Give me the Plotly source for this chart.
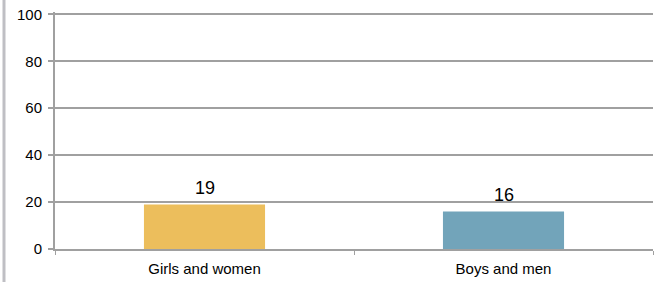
import plotly.graph_objects as go

categories = ["Girls and women", "Boys and men"]
values = [19, 16]
bar_colors = ["#ECBE5C", "#72A4BA"]
y_ticks = [0, 20, 40, 60, 80, 100]

FONT = "Liberation Sans, Arial, sans-serif"

fig = go.Figure()
fig.add_trace(go.Bar(
    x=categories, y=values, marker=dict(color=bar_colors, line=dict(width=0)),
    width=0.405, showlegend=False, hoverinfo="skip",
))
for c, v in zip(categories, values):
    fig.add_annotation(x=c, y=v, text=str(v), showarrow=False, yanchor="bottom",
                       yshift=4, font=dict(size=18, color="#000000", family=FONT))

fig.add_shape(type="line", xref="paper", yref="paper", x0=-51/598, x1=-51/598,
              y0=-40/237, y1=1 + 20/237, line=dict(color="#BFBFC4", width=3), layer="above")

fig.update_layout(
    width=665, height=282,
    margin=dict(l=55, r=12, t=12, b=33, autoexpand=False),
    paper_bgcolor="white", plot_bgcolor="white",
    font=dict(family=FONT, color="#000000", size=14),
    xaxis=dict(showgrid=False, showline=True, linecolor="#A0A0A0", linewidth=2,
               ticks="outside", tickson="boundaries", ticklen=4, tickcolor="#A0A0A0",
               tickwidth=1, tickfont=dict(size=15), ticklabelstandoff=5,
               zeroline=False, automargin=False),
    yaxis=dict(range=[0, 101], tickvals=y_ticks, showgrid=True, gridcolor="#A0A0A0",
               gridwidth=2, showline=True, linecolor="#A0A0A0", linewidth=2,
               ticks="outside", ticklen=5, tickcolor="#A0A0A0", tickwidth=2,
               tickfont=dict(size=15), ticklabelstandoff=3, zeroline=False, automargin=False),
)
fig.write_html("out.html", config={"displayModeBar": False},
               post_script="document.body.style.margin='0';document.body.style.padding='0';")
